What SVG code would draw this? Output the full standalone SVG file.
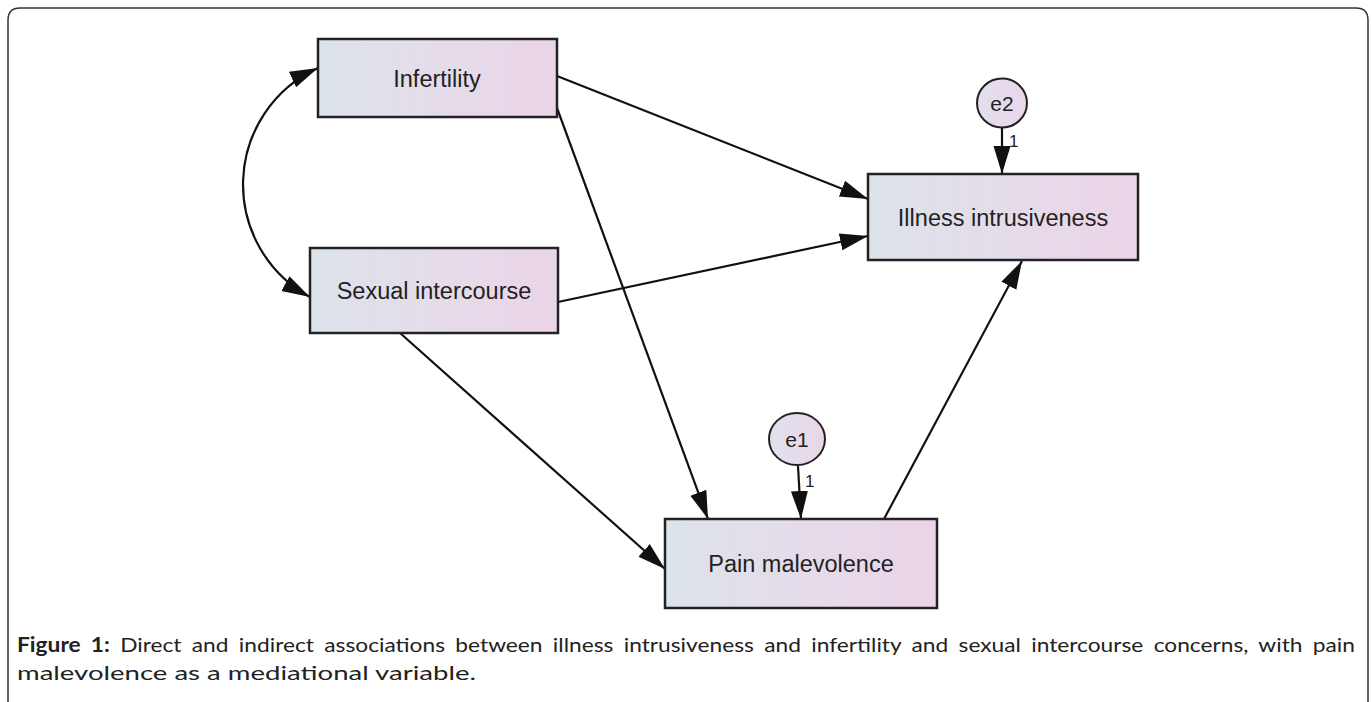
<svg xmlns="http://www.w3.org/2000/svg" width="1372" height="702" viewBox="0 0 1372 702">
  <defs>
    <linearGradient id="boxGrad" x1="0" y1="0" x2="1" y2="0">
      <stop offset="0" stop-color="#dce3e9"/>
      <stop offset="0.5" stop-color="#e5dcea"/>
      <stop offset="1" stop-color="#ebd4e7"/>
    </linearGradient>
    <linearGradient id="circGrad" x1="0" y1="0" x2="1" y2="0">
      <stop offset="0" stop-color="#e2e0ec"/>
      <stop offset="1" stop-color="#ead6e9"/>
    </linearGradient>
    <marker id="arrow" markerUnits="userSpaceOnUse" markerWidth="30" markerHeight="20" refX="28" refY="9" orient="auto-start-reverse">
      <path d="M0,0.5 L28,9 L0,17.5 Z" fill="#111"/>
    </marker>
    <style>
      .box { fill: url(#boxGrad); stroke: #222; stroke-width: 2.5; }
      .err { fill: url(#circGrad); stroke: #222; stroke-width: 2; }
      .lbl { font-family: "Liberation Sans", Arial, sans-serif; font-size: 23.5px; fill: #222; text-anchor: middle; }
      .elbl { font-family: "Liberation Sans", Arial, sans-serif; font-size: 21px; fill: #222; text-anchor: middle; }
      .one { font-family: "Liberation Sans", Arial, sans-serif; font-size: 17px; fill: #222; }
      .edge { fill: none; stroke: #111; stroke-width: 2.2; marker-end: url(#arrow); }
      .cap { font-family: Lato, "Open Sans", sans-serif; font-size: 20px; fill: #222; }
    </style>
  </defs>

  <rect width="1372" height="702" fill="#ffffff"/>
  <path d="M8,702 V20 Q8,8 20,8 H1356 Q1368,8 1368,20 V702" fill="none" stroke="#333" stroke-width="1.5"/>

  <g id="connectors">
    <path class="edge" d="M318,68 A128,128 0 0 0 310,297" marker-start="url(#arrow)"/>
    <line class="edge" x1="557" y1="76" x2="868" y2="199"/>
    <line class="edge" x1="558" y1="302" x2="868" y2="236"/>
    <line class="edge" x1="557" y1="108" x2="708" y2="519"/>
    <line class="edge" x1="400" y1="333" x2="665" y2="569"/>
    <line class="edge" x1="884" y1="519" x2="1022" y2="261"/>
    <line class="edge" x1="1002" y1="128" x2="1002" y2="174"/>
    <line class="edge" x1="798" y1="466" x2="801" y2="519"/>
    <text class="one" x="1009" y="147">1</text>
    <text class="one" x="805" y="487">1</text>
  </g>

  <g id="infertility">
    <rect class="box" x="318" y="39" width="239" height="78"/>
    <text class="lbl" x="437" y="87">Infertility</text>
  </g>

  <g id="sexual-intercourse">
    <rect class="box" x="310" y="248" width="248" height="85"/>
    <text class="lbl" x="434" y="299">Sexual intercourse</text>
  </g>

  <g id="illness-intrusiveness">
    <rect class="box" x="868" y="174" width="270" height="86"/>
    <text class="lbl" x="1003" y="226">Illness intrusiveness</text>
  </g>

  <g id="pain-malevolence">
    <rect class="box" x="665" y="519" width="272" height="89"/>
    <text class="lbl" x="801" y="572">Pain malevolence</text>
  </g>

  <g id="e2">
    <ellipse class="err" cx="1002" cy="103" rx="25" ry="24.5"/>
    <text class="elbl" x="1002" y="111">e2</text>
  </g>

  <g id="e1">
    <ellipse class="err" cx="797" cy="439" rx="28" ry="26"/>
    <text class="elbl" x="797" y="447">e1</text>
  </g>

  <g id="caption">
    <text class="cap" x="17" y="652" textLength="1338" lengthAdjust="spacingAndGlyphs" word-spacing="4"><tspan font-weight="bold">Figure 1:</tspan> Direct and indirect associations between illness intrusiveness and infertility and sexual intercourse concerns, with pain</text>
    <text class="cap" x="17" y="680" textLength="459" lengthAdjust="spacingAndGlyphs">malevolence as a mediational variable.</text>
  </g>
</svg>
